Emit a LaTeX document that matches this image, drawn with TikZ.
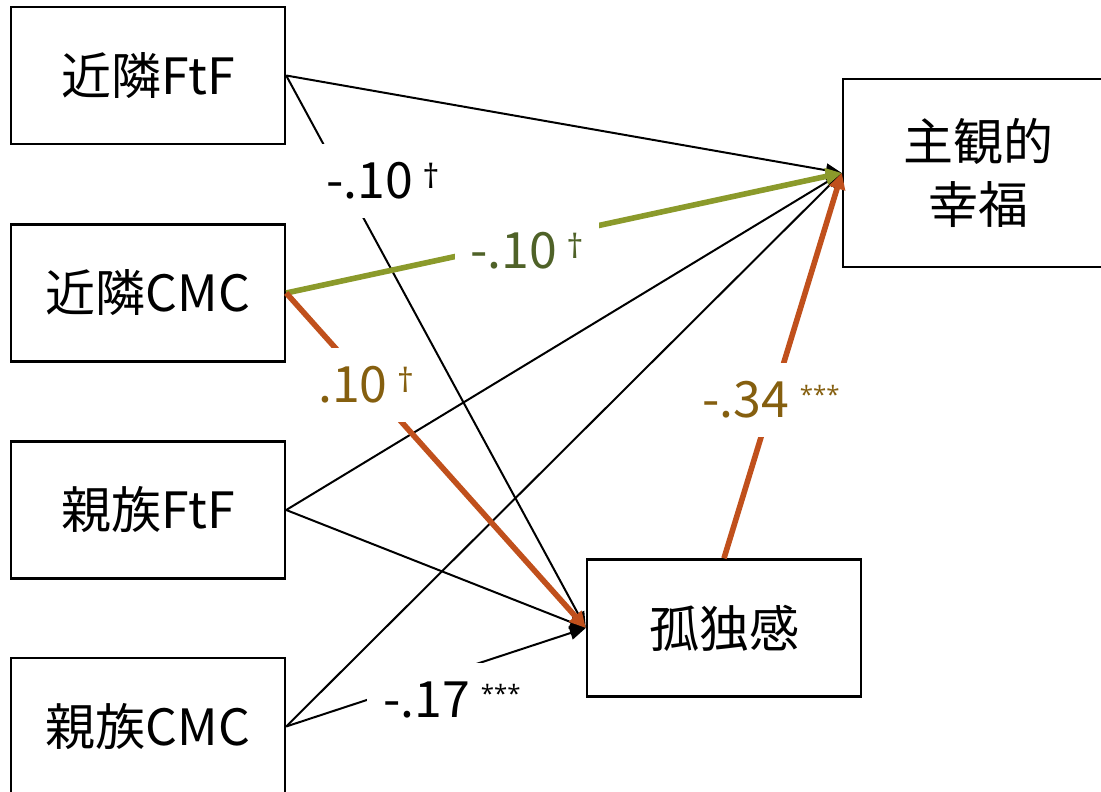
\documentclass[tikz,border=0pt]{standalone}
\usepackage{fontspec}
\setmainfont{Noto Sans CJK JP}
\newfontfamily\markfont{Open Sans}
\usetikzlibrary{arrows.meta}

\definecolor{olivebar}{RGB}{139,154,43}
\definecolor{olivetext}{RGB}{79,98,40}
\definecolor{rustbar}{RGB}{192,80,28}
\definecolor{rusttext}{RGB}{133,95,15}
\newcommand{\dgr}{\hspace{7pt}{\markfont\fontsize{25}{25}\selectfont\raisebox{8pt}{†}}}
\newcommand{\stars}{\hspace{8pt}{\markfont\fontsize{18}{18}\selectfont\raisebox{11pt}{***}}}

\begin{document}
\begin{tikzpicture}[x=0.75pt, y=-0.75pt,
  varbox/.style={draw, line width=1.8pt, minimum width=205.5pt, minimum height=102.75pt,
    inner sep=0pt, font=\fontsize{37.5}{47}\selectfont},
  blackline/.style={line width=1.5pt, -{Triangle[length=12pt,width=10pt]}},
  boldline/.style={line width=4.2pt, -{Triangle[length=12pt,width=12pt]}},
  coef/.style={fill=white, inner xsep=12pt, inner ysep=14pt, font=\fontsize{37.5}{47}\selectfont}]

\useasboundingbox (0,0) rectangle (1101,792);

% the four predictors
\node[varbox] (nFtF) at (148,75.5) {近隣FtF};
\node[varbox] (nCMC) at (148,293) {近隣CMC};
\node[varbox] (kFtF) at (148,510) {親族FtF};
\node[varbox] (kCMC) at (148,726.5) {親族CMC};

% mediator and outcome
\node[varbox] (lonely) at (724,628) {孤独感};
\node[varbox, minimum width=202.5pt, minimum height=141pt, align=center] (wellbeing) at (978,173) {主観的\\幸福};

% plain paths
\draw[blackline] (nFtF.east) -- (wellbeing.west);
\draw[blackline] (nFtF.east) -- (lonely.west);
\draw[blackline] (kFtF.east) -- (wellbeing.west);
\draw[blackline] (kFtF.east) -- (lonely.west);
\draw[blackline] (kCMC.east) -- (wellbeing.west);
\draw[blackline] (kCMC.east) -- (lonely.west);

% significant paths
\draw[boldline, olivebar] (nCMC.east) -- (wellbeing.west);
\draw[boldline, rustbar] (nCMC.east) -- (lonely.west);
\draw[boldline, rustbar] (lonely.north) -- (wellbeing.west);

% coefficients
\node[coef] (c1) at (383,181) {-.10\dgr};
\node[coef, text=olivetext] (c2) at (527,251) {-.10\dgr};
\node[coef, text=rusttext] (c3) at (366,385) {.10\dgr};
\node[coef] (c4) at (452,700) {-.17\stars};
\node[coef, text=rusttext] (c5) at (771,400) {-.34\stars};

\end{tikzpicture}
\end{document}
